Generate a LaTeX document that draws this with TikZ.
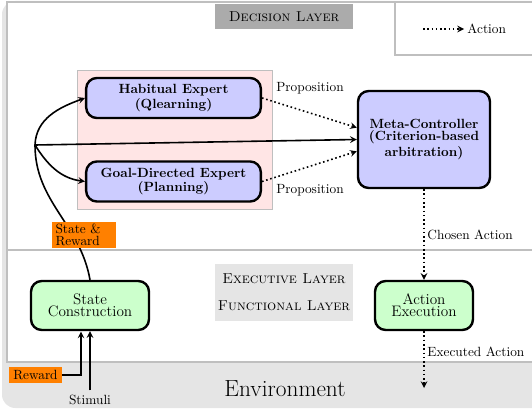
\documentclass[tikz,border=0pt]{standalone}
\usepackage{fontspec}
\usepackage{amsmath, amssymb}
\usetikzlibrary{shapes}

\tikzset{
	expert/.style={draw, line width=1.8pt, rounded corners=8pt, fill=blue!20, font=\bfseries, align=center, minimum width=131pt, minimum height=30pt, inner sep=2pt},
	funcbox/.style={draw, line width=1.8pt, rounded corners=8pt, fill=green!20, font=\fontsize{11.4}{13.7}\selectfont, align=center, minimum height=36.75pt, inner sep=2pt},
	orangetag/.style={fill=orange, inner xsep=3pt, inner ysep=1.5pt, minimum height=12pt},
	layerlabel/.style={font=\fontsize{10.8}{13}\selectfont\scshape, inner sep=0pt},
	actarrow/.style={dotted, line width=1.2pt, ->},
	feed/.style={very thick, ->},
}

\begin{document}
\begin{tikzpicture}[x=0.75pt, y=-0.75pt, >=stealth]
	\clip (0,0) rectangle (532,410);
	% layers and environment
	\fill[black!10, rounded corners=10pt] (2,1) rectangle (560,408);
	\filldraw[fill=white, draw=black!25, line width=0.8pt] (7,2) rectangle (560,362);
	\draw[black!25, line width=0.8pt] (7,250) -- (560,250);
	\filldraw[fill=white, draw=black!25, line width=0.8pt] (395,2) rectangle (560,55);
	\node[layerlabel, fill=black!33, minimum width=103.5pt, minimum height=18.75pt] (declab) at (284,16.5) {Decision Layer};
	\node[layerlabel, fill=black!10, align=center, minimum width=103.5pt, minimum height=42.75pt] (execlab) at (284,292.5) {Executive Layer\\[7pt]Functional Layer};
	\node[font=\fontsize{17.5}{20}\selectfont] (env) at (285,389) {Environment};
	\filldraw[fill=red!10, draw=black!25] (77,70) rectangle (272,209);

	% modules
	\node[expert] (habit) at (173.5,98) {Habitual Expert\\[-1.2pt](Qlearning)};
	\node[expert] (goal) at (173.5,181.5) {Goal-Directed Expert\\[-1.2pt](Planning)};
	\node[expert, minimum width=99pt, minimum height=72.75pt] (meta) at (424,139.5) {Meta-Controller\\[-3.2pt](Criterion-based\\arbitration)};
	\node[funcbox, minimum width=88.5pt] (state) at (90,305.5) {State\\[-4.5pt]Construction};
	\node[funcbox, minimum width=73.5pt] (act) at (424,305.5) {Action\\[-4.5pt]Execution};

	% state flow
	\coordinate (hub) at (35,145);
	\draw[very thick] (state.north) to[out=100,in=-90] (hub);
	\draw[feed] (hub) to[out=88,in=200] (habit.west);
	\draw[feed] (hub) to[out=-58,in=172] (goal.west);
	\draw[feed] (hub) -- (meta.west);
	\node[orangetag, text width=42pt, align=left] (sr) at (83.5,235) {State \&\\[-3.2pt]Reward};

	\node[orangetag] (reward) at (35.5,375) {Reward};
	\coordinate (rewin) at (81,331.5);
	\draw[feed] (reward.east) -| (rewin);
	\node (stim) at (90,400) {Stimuli};
	\draw[feed] (stim.north) -- (state.south);

	% actions
	\node (propA) at (310,88) {Proposition};
	\node (propB) at (310,190) {Proposition};
	\draw[actarrow] (habit.east) -- (meta.170);
	\draw[actarrow] (goal.east) -- (meta.190);
	\draw[actarrow] (meta.south) -- (act.north) node[midway, right, inner sep=2pt] {Chosen Action};
	\coordinate (envin) at (424,388);
	\draw[actarrow] (act.south) -- (envin) node[pos=0.37, right, inner sep=2pt] {Executed Action};

	% legend
	\coordinate (lgA) at (423,29);
	\coordinate (lgB) at (464,29);
	\draw[actarrow] (lgA) -- (lgB) node[right, inner sep=2pt] {Action};
\end{tikzpicture}
\end{document}
